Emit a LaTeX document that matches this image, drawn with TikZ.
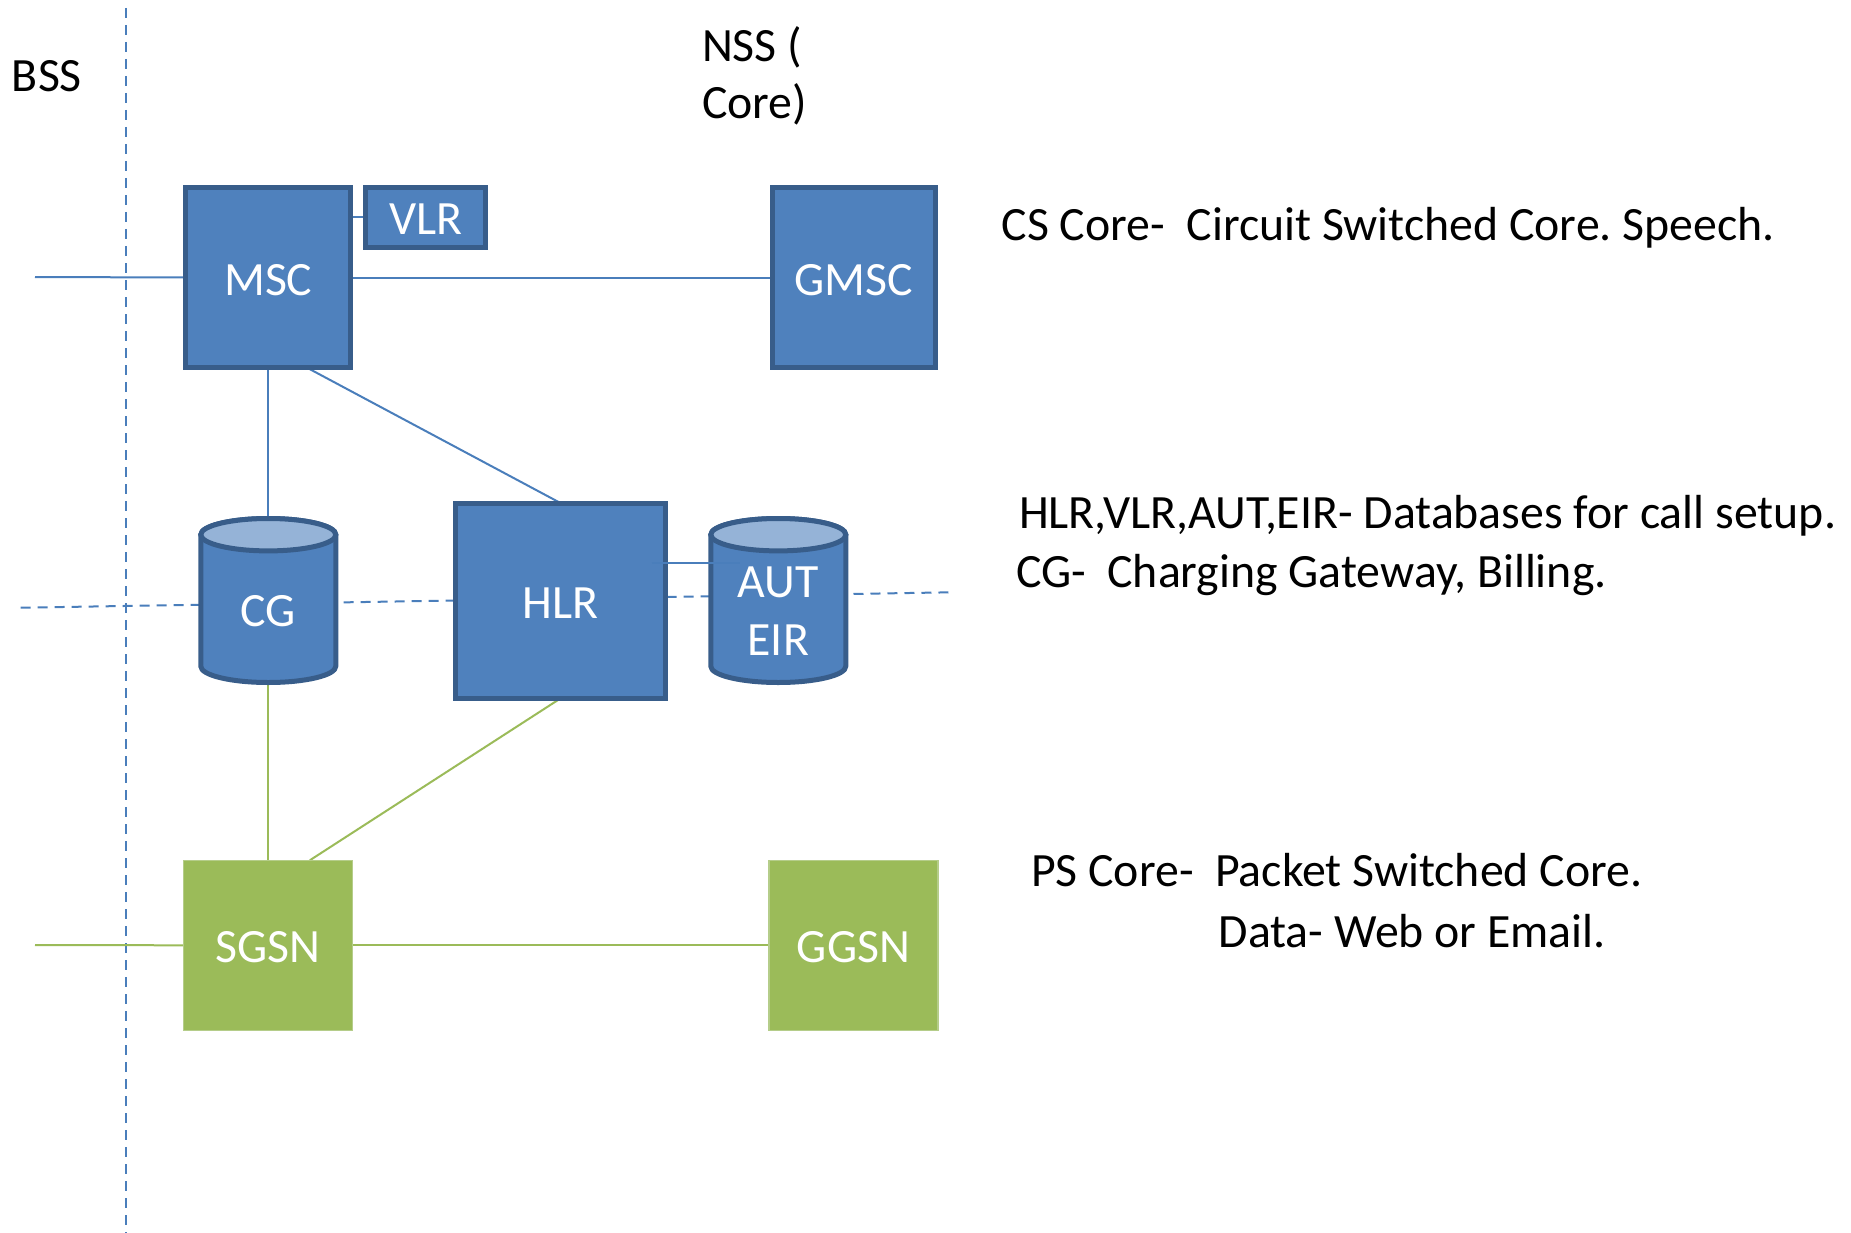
\documentclass[tikz,border=0pt]{standalone}
\usepackage{fontspec}
\setmainfont{Carlito}
\frenchspacing
\definecolor{boxfill}{HTML}{4F81BD}
\definecolor{boxline}{HTML}{385D8A}
\definecolor{topfill}{HTML}{95B3D7}
\definecolor{conblue}{HTML}{4A7EBB}
\definecolor{greenfill}{HTML}{9BBB59}
\definecolor{greenedge}{HTML}{B5CD8A}
\pgfdeclarelayer{bg}
\pgfsetlayers{bg,main}
\newcommand\dbcyl[1]{%
  \draw[draw=boxline, line width=5pt, fill=boxfill, line join=round]
    ([yshift=-16.2pt]#1.north west) -- ([yshift=16.2pt]#1.south west)
    arc[start angle=180, end angle=360, x radius=67.5pt, y radius=16.2pt]
    -- ([yshift=-16.2pt]#1.north east)
    arc[start angle=0, end angle=180, x radius=67.5pt, y radius=16.2pt] -- cycle;
  \draw[draw=boxline, line width=5pt, fill=topfill]
    ([yshift=-16.2pt]#1.north) ellipse [x radius=67.5pt, y radius=16.2pt];
}
\begin{document}
\begin{tikzpicture}[x=1pt,y=-1pt,
  every node/.style={inner sep=0pt, outer sep=0pt},
  bigfont/.style={font=\fontsize{47.8pt}{58pt}\selectfont},
  bluebox/.style={draw=boxline, line width=5pt, fill=boxfill, text=white, bigfont, text height=35pt, text depth=0pt},
  greenbox/.style={draw=greenedge, line width=1.2pt, fill=greenfill, text=white, bigfont, text height=35pt, text depth=0pt},
  dbarea/.style={minimum width=135pt, minimum height=164pt},
  boxtext/.style={text=white, bigfont, anchor=base},
  note/.style={bigfont, anchor=base west, text=black},
  bline/.style={draw=conblue, line width=2pt},
  gline/.style={draw=greenfill, line width=2pt},
  dline/.style={draw=conblue, line width=2pt, dash pattern=on 10pt off 7pt},
]
\useasboundingbox (0,0) rectangle (1851,1233);

% boxes
\node[bluebox, minimum width=165pt, minimum height=180pt] (msc) at (268.3,277.5) {MSC};
\node[bluebox, minimum width=120pt, minimum height=60pt] (vlr) at (425.8,217.5) {VLR};
\node[bluebox, minimum width=163pt, minimum height=180pt] (gmsc) at (854,277.5) {GMSC};
\node[bluebox, minimum width=210pt, minimum height=195pt] (hlr) at (560.8,600.7) {HLR};
\node[greenbox, minimum width=169pt, minimum height=170pt] (sgsn) at (268.3,945.3) {SGSN};
\node[greenbox, minimum width=169pt, minimum height=170pt] (ggsn) at (853.5,945.3) {GGSN};

% databases
\node[dbarea] (cg) at (268.3,600.5) {};
\node[dbarea] (aut) at (778.3,600.5) {};
\dbcyl{cg}
\dbcyl{aut}
\node[boxtext] (cgt) at (268.3,626) {CG};
\node[boxtext] (autt) at (778.3,597) {AUT};
\node[boxtext] (eirt) at (778.3,655) {EIR};

% free ends
\coordinate (mscin) at (35,277);
\coordinate (sgsnin) at (35,945);
\coordinate (vtop) at (125.7,8);
\coordinate (vbot) at (125.7,1233);
\coordinate (hl) at (20.6,607.7);
\coordinate (hr) at (951.7,592.3);
\coordinate (hlrport) at (651.7,562.5);
\coordinate (autport) at (740,562.5);

\begin{pgfonlayer}{bg}
\draw[dline] (vtop) -- (vbot);
\draw[dline] (hl) -- (hr);
\draw[bline] (mscin) -- (msc.west);
\draw[bline] (msc.east) -- (gmsc.west);
\draw[bline] (vlr.west) -- (vlr.west -| msc.east);
\draw[bline] (msc.south) -- (cg.north);
\draw[bline] ([xshift=38.4pt]msc.south) -- (hlr.north);
\draw[gline] (cg.south) -- (sgsn.north);
\draw[gline] (hlr.south) -- ([xshift=41.5pt]sgsn.north);
\draw[gline] (sgsnin) -- (sgsn.west);
\draw[gline] (sgsn.east) -- (ggsn.west);
\end{pgfonlayer}
\draw[bline] (hlrport) -- (autport);

% texts
\node[note] (bss) at (12,92) {BSS};
\node[note] (nss1) at (702,61.3) {NSS (};
\node[note] (nss2) at (702,118.6) {Core)};
\node[note] (cs) at (1001.7,241) {CS Core- \ Circuit Switched Core. Speech.};
\node[note] (db) at (1019,528) {HLR,VLR,AUT,EIR- Databases for call setup.};
\node[note] (cgn) at (1016,587) {CG- \ Charging Gateway, Billing.};
\node[note] (ps) at (1031,886) {PS Core- \ Packet Switched Core.};
\node[note] (data) at (1218.6,947) {Data- Web or Email.};
\end{tikzpicture}
\end{document}
